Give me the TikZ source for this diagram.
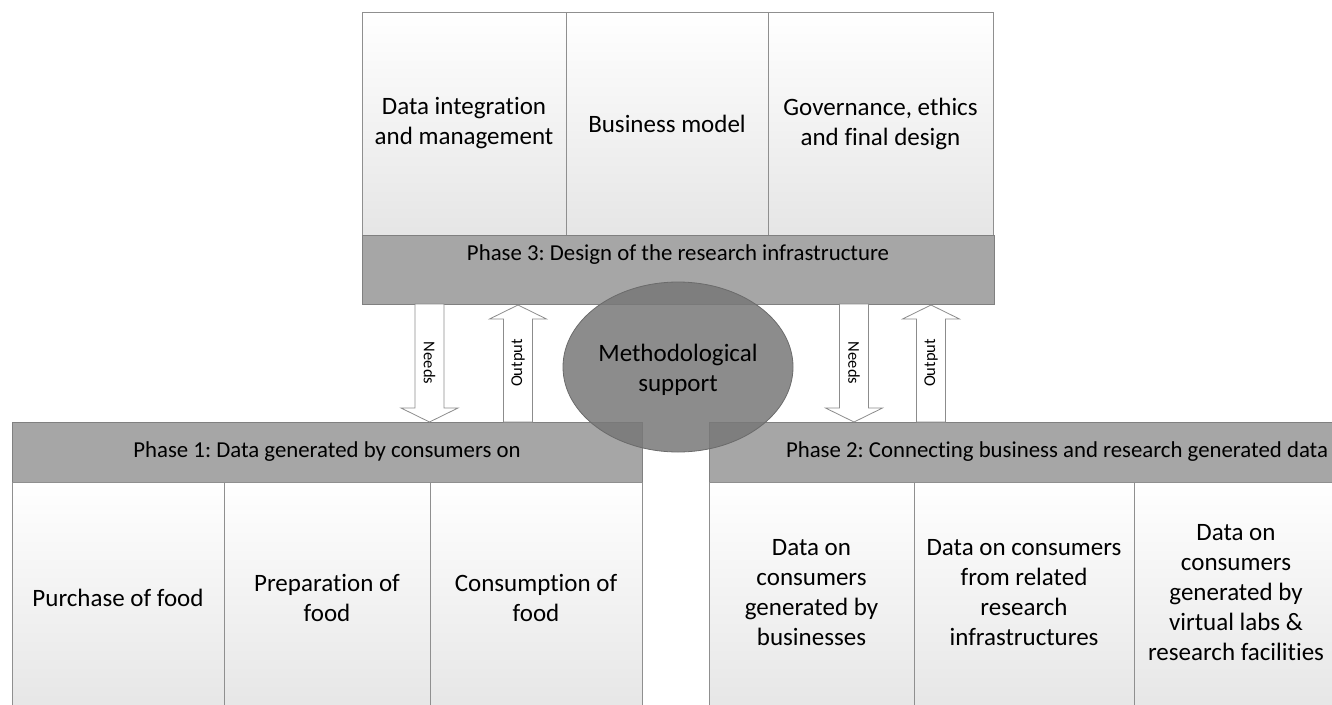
\documentclass[tikz,border=0pt]{standalone}
\usepackage{fontspec}
\setmainfont{Carlito}[Ligatures=NoCommon]
\usetikzlibrary{shapes.geometric}
\definecolor{barfill}{gray}{0.65}
\definecolor{barline}{gray}{0.5}
\definecolor{boxline}{gray}{0.56}
\definecolor{ellfill}{gray}{0.47}
\definecolor{ellline}{gray}{0.42}
\definecolor{arrline}{gray}{0.55}
\definecolor{cellbottom}{gray}{0.9}
\frenchspacing
\begin{document}
\begin{tikzpicture}[x=1pt,y=-1pt,
  cell/.style={draw=boxline, line width=0.8pt, top color=white, bottom color=cellbottom,
    inner sep=0pt, align=center, font=\fontsize{25}{30}\selectfont},
  bar/.style={draw=barline, line width=0.8pt, fill=barfill, inner sep=0pt},
  bartext/.style={font=\fontsize{22.8}{27}\selectfont, inner sep=0pt},
  blockarrow/.style={draw=arrline, line width=0.8pt, fill=white},
  arrtext/.style={font=\fontsize{16.5}{19}\selectfont, inner sep=0pt}]
\useasboundingbox (0,0) rectangle (1332,704);
\clip (0,0) rectangle (1332,704);
% top cells
\node[cell, minimum width=204pt, minimum height=223pt] (t1) at (464,123.5) {Data integration\\and management};
\node[cell, minimum width=202pt, minimum height=223pt] (t2) at (667,123.5) {Business model};
\node[cell, minimum width=225pt, minimum height=223pt] (t3) at (880.5,123.5) {Governance, ethics\\and final design};
% phase 3 bar
\node[bar, minimum width=632pt, minimum height=69pt] (p3) at (678,269.5) {};
\node[bartext] (p3t) at (678,255) {Phase 3: Design of the research infrastructure};
% phase 1 bar and cells
\node[bar, minimum width=630pt, minimum height=60pt] (p1) at (327,452) {};
\node[bartext] (p1t) at (327,452) {Phase 1: Data generated by consumers on};
\node[cell, minimum width=212pt, minimum height=232pt] (b1) at (118,598) {Purchase of food};
\node[cell, minimum width=206pt, minimum height=232pt] (b2) at (327,598) {Preparation of\\food};
\node[cell, minimum width=212pt, minimum height=232pt] (b3) at (536,598) {Consumption of\\food};
% phase 2 bar and cells
\node[bar, minimum width=629pt, minimum height=60pt] (p2) at (1023.5,452) {};
\node[bartext] (p2t) at (1057,452) {Phase 2: Connecting business and research generated data};
\node[cell, minimum width=205pt, minimum height=232pt] (c1) at (811.5,598) {};
\node[cell, minimum width=220pt, minimum height=232pt] (c2) at (1024,598) {};
\node[cell, minimum width=204pt, minimum height=232pt] (c3) at (1236,598) {};
\node[align=center, font=\fontsize{25}{30}\selectfont, inner sep=0pt] (c1t) at (811.5,593) {Data on\\consumers\\generated by\\businesses};
\node[align=center, font=\fontsize{25}{30}\selectfont, inner sep=0pt] (c2t) at (1024,593) {Data on consumers\\from related\\research\\infrastructures};
\node[align=center, font=\fontsize{25}{30}\selectfont, inner sep=0pt] (c3t) at (1236,593) {Data on\\consumers\\generated by\\virtual labs \&\\research facilities};
% block arrows
\foreach \cx/\nm in {429.5/nl, 854/nr}{
  \draw[blockarrow] ({\cx-14.5},304) -- ({\cx+14.5},304) -- ({\cx+14.5},408) -- ({\cx+28.5},408)
     -- (\cx,422) -- ({\cx-28.5},408) -- ({\cx-14.5},408) -- cycle;
  \node[arrtext, rotate=-90] (\nm) at (\cx,363) {Needs};
}
\foreach \cx/\nm in {518/ol, 931/or}{
  \draw[blockarrow] ({\cx-14.5},422) -- ({\cx+14.5},422) -- ({\cx+14.5},319) -- ({\cx+28.5},319)
     -- (\cx,305) -- ({\cx-28.5},319) -- ({\cx-14.5},319) -- cycle;
  \node[arrtext, rotate=90] (\nm) at (\cx,363) {Output};
}
% methodological support
\node[ellipse, minimum width=230pt, minimum height=170pt, fill=ellfill, fill opacity=0.85,
  text opacity=1, draw=ellline, line width=0.8pt, align=center, inner sep=0pt,
  font=\fontsize{25}{30}\selectfont] (ms) at (678,367) {};
\node[align=center, inner sep=0pt, font=\fontsize{25}{30}\selectfont] (mst) at (678,370) {Methodological\\support};
\end{tikzpicture}
\end{document}
